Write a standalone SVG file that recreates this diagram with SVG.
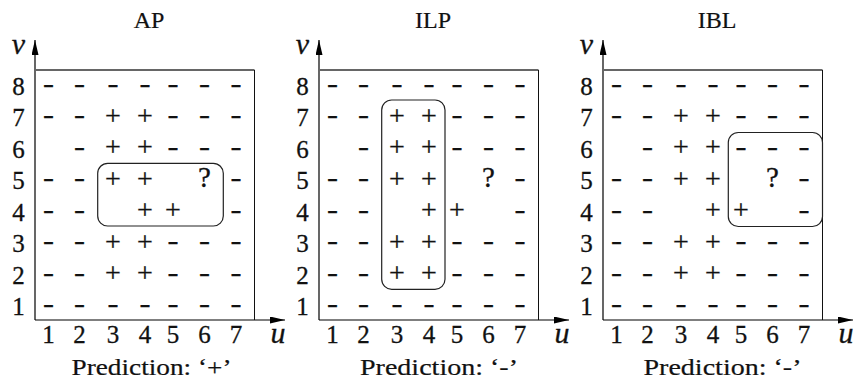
<svg xmlns="http://www.w3.org/2000/svg" width="854" height="382" viewBox="0 0 854 382">
<style>
text{font-family:"Liberation Serif","Times New Roman",serif;fill:#111;stroke:#111;stroke-width:0.3;text-anchor:middle}
.m{font-size:26px;stroke-width:0.35}
.p{font-size:28px}
.q{font-size:29px}
.n{font-size:25px}
.i{font-size:30px;font-style:italic}
.t{font-size:24px;stroke-width:0.2}
.pr{font-size:24px;stroke-width:0.2}
.ax{stroke:#000;stroke-width:1.2;fill:none}
.top{stroke:#666;stroke-width:1.8;fill:none}
.rt{stroke:#111;stroke-width:1;fill:none}
.box{stroke:#222;stroke-width:1.2;fill:none}
</style>
<defs>
<marker id="ah" markerWidth="15" markerHeight="7" refX="15" refY="3.5" orient="auto" markerUnits="userSpaceOnUse">
<path d="M0,0 L15,3.5 L0,7 z" fill="#000"/>
</marker>
</defs>

<!-- Panel AP -->
<g id="panel-AP">
<text class="t" x="149" y="28">AP</text>
<g id="axes-AP">
<path class="ax" d="M35,320 V40" marker-end="url(#ah)"/>
<path class="ax" d="M35,320 H285" marker-end="url(#ah)"/>
<path class="top" d="M35,70 H254.5"/>
<path class="rt" d="M254.5,70 V320"/>
</g>
<text class="i" x="18.5" y="54">v</text>
<text class="i" x="278" y="343">u</text>
<g id="rows-AP">
<text class="n" x="18.5" y="94.5">8</text><text class="n" x="18.5" y="126">7</text><text class="n" x="18.5" y="157.5">6</text><text class="n" x="18.5" y="189">5</text>
<text class="n" x="18.5" y="220.5">4</text><text class="n" x="18.5" y="252">3</text><text class="n" x="18.5" y="283.5">2</text><text class="n" x="18.5" y="315">1</text>
</g>
<g id="cols-AP">
<text class="n" x="48.5" y="343">1</text><text class="n" x="79.5" y="343">2</text><text class="n" x="113" y="343">3</text><text class="n" x="145" y="343">4</text>
<text class="n" x="173" y="343">5</text><text class="n" x="204.5" y="343">6</text><text class="n" x="236" y="343">7</text>
</g>
<g id="grid-AP">
<text class="m" x="48.5" y="91.9" textLength="11" lengthAdjust="spacingAndGlyphs">-</text><text class="m" x="79.5" y="91.9" textLength="11" lengthAdjust="spacingAndGlyphs">-</text><text class="m" x="113" y="91.9" textLength="11" lengthAdjust="spacingAndGlyphs">-</text><text class="m" x="145" y="91.9" textLength="11" lengthAdjust="spacingAndGlyphs">-</text><text class="m" x="173" y="91.9" textLength="11" lengthAdjust="spacingAndGlyphs">-</text><text class="m" x="204.5" y="91.9" textLength="11" lengthAdjust="spacingAndGlyphs">-</text><text class="m" x="236" y="91.9" textLength="11" lengthAdjust="spacingAndGlyphs">-</text>
<text class="m" x="48.5" y="123.4" textLength="11" lengthAdjust="spacingAndGlyphs">-</text><text class="m" x="79.5" y="123.4" textLength="11" lengthAdjust="spacingAndGlyphs">-</text><text class="p" x="113" y="124.6">+</text><text class="p" x="145" y="124.6">+</text><text class="m" x="173" y="123.4" textLength="11" lengthAdjust="spacingAndGlyphs">-</text><text class="m" x="204.5" y="123.4" textLength="11" lengthAdjust="spacingAndGlyphs">-</text><text class="m" x="236" y="123.4" textLength="11" lengthAdjust="spacingAndGlyphs">-</text>
<text class="m" x="79.5" y="154.9" textLength="11" lengthAdjust="spacingAndGlyphs">-</text><text class="p" x="113" y="156.1">+</text><text class="p" x="145" y="156.1">+</text><text class="m" x="173" y="154.9" textLength="11" lengthAdjust="spacingAndGlyphs">-</text><text class="m" x="204.5" y="154.9" textLength="11" lengthAdjust="spacingAndGlyphs">-</text><text class="m" x="236" y="154.9" textLength="11" lengthAdjust="spacingAndGlyphs">-</text>
<text class="m" x="48.5" y="186.4" textLength="11" lengthAdjust="spacingAndGlyphs">-</text><text class="m" x="79.5" y="186.4" textLength="11" lengthAdjust="spacingAndGlyphs">-</text><text class="p" x="113" y="187.6">+</text><text class="p" x="145" y="187.6">+</text><text class="q" x="204.5" y="187">?</text><text class="m" x="236" y="186.4" textLength="11" lengthAdjust="spacingAndGlyphs">-</text>
<text class="m" x="48.5" y="217.9" textLength="11" lengthAdjust="spacingAndGlyphs">-</text><text class="m" x="79.5" y="217.9" textLength="11" lengthAdjust="spacingAndGlyphs">-</text><text class="p" x="145" y="219.1">+</text><text class="p" x="173" y="219.1">+</text><text class="m" x="236" y="217.9" textLength="11" lengthAdjust="spacingAndGlyphs">-</text>
<text class="m" x="48.5" y="249.4" textLength="11" lengthAdjust="spacingAndGlyphs">-</text><text class="m" x="79.5" y="249.4" textLength="11" lengthAdjust="spacingAndGlyphs">-</text><text class="p" x="113" y="250.6">+</text><text class="p" x="145" y="250.6">+</text><text class="m" x="173" y="249.4" textLength="11" lengthAdjust="spacingAndGlyphs">-</text><text class="m" x="204.5" y="249.4" textLength="11" lengthAdjust="spacingAndGlyphs">-</text><text class="m" x="236" y="249.4" textLength="11" lengthAdjust="spacingAndGlyphs">-</text>
<text class="m" x="48.5" y="280.9" textLength="11" lengthAdjust="spacingAndGlyphs">-</text><text class="m" x="79.5" y="280.9" textLength="11" lengthAdjust="spacingAndGlyphs">-</text><text class="p" x="113" y="282.1">+</text><text class="p" x="145" y="282.1">+</text><text class="m" x="173" y="280.9" textLength="11" lengthAdjust="spacingAndGlyphs">-</text><text class="m" x="204.5" y="280.9" textLength="11" lengthAdjust="spacingAndGlyphs">-</text><text class="m" x="236" y="280.9" textLength="11" lengthAdjust="spacingAndGlyphs">-</text>
<text class="m" x="48.5" y="312.4" textLength="11" lengthAdjust="spacingAndGlyphs">-</text><text class="m" x="79.5" y="312.4" textLength="11" lengthAdjust="spacingAndGlyphs">-</text><text class="m" x="113" y="312.4" textLength="11" lengthAdjust="spacingAndGlyphs">-</text><text class="m" x="145" y="312.4" textLength="11" lengthAdjust="spacingAndGlyphs">-</text><text class="m" x="173" y="312.4" textLength="11" lengthAdjust="spacingAndGlyphs">-</text><text class="m" x="204.5" y="312.4" textLength="11" lengthAdjust="spacingAndGlyphs">-</text><text class="m" x="236" y="312.4" textLength="11" lengthAdjust="spacingAndGlyphs">-</text>
</g>
<rect id="box-AP" class="box" x="97.7" y="163.3" width="125.6" height="62.7" rx="10"/>
<text class="pr" x="151.5" y="375" textLength="160" lengthAdjust="spacingAndGlyphs">Prediction: ‘+’</text>
</g>

<!-- Panel ILP -->
<g id="panel-ILP" transform="translate(284,0)">
<text class="t" x="149" y="28">ILP</text>
<g id="axes-ILP">
<path class="ax" d="M35,320 V40" marker-end="url(#ah)"/>
<path class="ax" d="M35,320 H285" marker-end="url(#ah)"/>
<path class="top" d="M35,70 H254.5"/>
<path class="rt" d="M254.5,70 V320"/>
</g>
<text class="i" x="18.5" y="54">v</text>
<text class="i" x="278" y="343">u</text>
<g id="rows-ILP">
<text class="n" x="18.5" y="94.5">8</text><text class="n" x="18.5" y="126">7</text><text class="n" x="18.5" y="157.5">6</text><text class="n" x="18.5" y="189">5</text>
<text class="n" x="18.5" y="220.5">4</text><text class="n" x="18.5" y="252">3</text><text class="n" x="18.5" y="283.5">2</text><text class="n" x="18.5" y="315">1</text>
</g>
<g id="cols-ILP">
<text class="n" x="48.5" y="343">1</text><text class="n" x="79.5" y="343">2</text><text class="n" x="113" y="343">3</text><text class="n" x="145" y="343">4</text>
<text class="n" x="173" y="343">5</text><text class="n" x="204.5" y="343">6</text><text class="n" x="236" y="343">7</text>
</g>
<g id="grid-ILP">
<text class="m" x="48.5" y="91.9" textLength="11" lengthAdjust="spacingAndGlyphs">-</text><text class="m" x="79.5" y="91.9" textLength="11" lengthAdjust="spacingAndGlyphs">-</text><text class="m" x="113" y="91.9" textLength="11" lengthAdjust="spacingAndGlyphs">-</text><text class="m" x="145" y="91.9" textLength="11" lengthAdjust="spacingAndGlyphs">-</text><text class="m" x="173" y="91.9" textLength="11" lengthAdjust="spacingAndGlyphs">-</text><text class="m" x="204.5" y="91.9" textLength="11" lengthAdjust="spacingAndGlyphs">-</text><text class="m" x="236" y="91.9" textLength="11" lengthAdjust="spacingAndGlyphs">-</text>
<text class="m" x="48.5" y="123.4" textLength="11" lengthAdjust="spacingAndGlyphs">-</text><text class="m" x="79.5" y="123.4" textLength="11" lengthAdjust="spacingAndGlyphs">-</text><text class="p" x="113" y="124.6">+</text><text class="p" x="145" y="124.6">+</text><text class="m" x="173" y="123.4" textLength="11" lengthAdjust="spacingAndGlyphs">-</text><text class="m" x="204.5" y="123.4" textLength="11" lengthAdjust="spacingAndGlyphs">-</text><text class="m" x="236" y="123.4" textLength="11" lengthAdjust="spacingAndGlyphs">-</text>
<text class="m" x="79.5" y="154.9" textLength="11" lengthAdjust="spacingAndGlyphs">-</text><text class="p" x="113" y="156.1">+</text><text class="p" x="145" y="156.1">+</text><text class="m" x="173" y="154.9" textLength="11" lengthAdjust="spacingAndGlyphs">-</text><text class="m" x="204.5" y="154.9" textLength="11" lengthAdjust="spacingAndGlyphs">-</text><text class="m" x="236" y="154.9" textLength="11" lengthAdjust="spacingAndGlyphs">-</text>
<text class="m" x="48.5" y="186.4" textLength="11" lengthAdjust="spacingAndGlyphs">-</text><text class="m" x="79.5" y="186.4" textLength="11" lengthAdjust="spacingAndGlyphs">-</text><text class="p" x="113" y="187.6">+</text><text class="p" x="145" y="187.6">+</text><text class="q" x="204.5" y="187">?</text><text class="m" x="236" y="186.4" textLength="11" lengthAdjust="spacingAndGlyphs">-</text>
<text class="m" x="48.5" y="217.9" textLength="11" lengthAdjust="spacingAndGlyphs">-</text><text class="m" x="79.5" y="217.9" textLength="11" lengthAdjust="spacingAndGlyphs">-</text><text class="p" x="145" y="219.1">+</text><text class="p" x="173" y="219.1">+</text><text class="m" x="236" y="217.9" textLength="11" lengthAdjust="spacingAndGlyphs">-</text>
<text class="m" x="48.5" y="249.4" textLength="11" lengthAdjust="spacingAndGlyphs">-</text><text class="m" x="79.5" y="249.4" textLength="11" lengthAdjust="spacingAndGlyphs">-</text><text class="p" x="113" y="250.6">+</text><text class="p" x="145" y="250.6">+</text><text class="m" x="173" y="249.4" textLength="11" lengthAdjust="spacingAndGlyphs">-</text><text class="m" x="204.5" y="249.4" textLength="11" lengthAdjust="spacingAndGlyphs">-</text><text class="m" x="236" y="249.4" textLength="11" lengthAdjust="spacingAndGlyphs">-</text>
<text class="m" x="48.5" y="280.9" textLength="11" lengthAdjust="spacingAndGlyphs">-</text><text class="m" x="79.5" y="280.9" textLength="11" lengthAdjust="spacingAndGlyphs">-</text><text class="p" x="113" y="282.1">+</text><text class="p" x="145" y="282.1">+</text><text class="m" x="173" y="280.9" textLength="11" lengthAdjust="spacingAndGlyphs">-</text><text class="m" x="204.5" y="280.9" textLength="11" lengthAdjust="spacingAndGlyphs">-</text><text class="m" x="236" y="280.9" textLength="11" lengthAdjust="spacingAndGlyphs">-</text>
<text class="m" x="48.5" y="312.4" textLength="11" lengthAdjust="spacingAndGlyphs">-</text><text class="m" x="79.5" y="312.4" textLength="11" lengthAdjust="spacingAndGlyphs">-</text><text class="m" x="113" y="312.4" textLength="11" lengthAdjust="spacingAndGlyphs">-</text><text class="m" x="145" y="312.4" textLength="11" lengthAdjust="spacingAndGlyphs">-</text><text class="m" x="173" y="312.4" textLength="11" lengthAdjust="spacingAndGlyphs">-</text><text class="m" x="204.5" y="312.4" textLength="11" lengthAdjust="spacingAndGlyphs">-</text><text class="m" x="236" y="312.4" textLength="11" lengthAdjust="spacingAndGlyphs">-</text>
</g>
<rect id="box-ILP" class="box" x="97.7" y="100" width="63.3" height="189.3" rx="10"/>
<text class="pr" x="155" y="375" textLength="158" lengthAdjust="spacingAndGlyphs">Prediction: ‘-’</text>
</g>

<!-- Panel IBL -->
<g id="panel-IBL" transform="translate(568,0)">
<text class="t" x="149" y="28">IBL</text>
<g id="axes-IBL">
<path class="ax" d="M35,320 V40" marker-end="url(#ah)"/>
<path class="ax" d="M35,320 H285" marker-end="url(#ah)"/>
<path class="top" d="M35,70 H254.5"/>
<path class="rt" d="M254.5,70 V320"/>
</g>
<text class="i" x="18.5" y="54">v</text>
<text class="i" x="278" y="343">u</text>
<g id="rows-IBL">
<text class="n" x="18.5" y="94.5">8</text><text class="n" x="18.5" y="126">7</text><text class="n" x="18.5" y="157.5">6</text><text class="n" x="18.5" y="189">5</text>
<text class="n" x="18.5" y="220.5">4</text><text class="n" x="18.5" y="252">3</text><text class="n" x="18.5" y="283.5">2</text><text class="n" x="18.5" y="315">1</text>
</g>
<g id="cols-IBL">
<text class="n" x="48.5" y="343">1</text><text class="n" x="79.5" y="343">2</text><text class="n" x="113" y="343">3</text><text class="n" x="145" y="343">4</text>
<text class="n" x="173" y="343">5</text><text class="n" x="204.5" y="343">6</text><text class="n" x="236" y="343">7</text>
</g>
<g id="grid-IBL">
<text class="m" x="48.5" y="91.9" textLength="11" lengthAdjust="spacingAndGlyphs">-</text><text class="m" x="79.5" y="91.9" textLength="11" lengthAdjust="spacingAndGlyphs">-</text><text class="m" x="113" y="91.9" textLength="11" lengthAdjust="spacingAndGlyphs">-</text><text class="m" x="145" y="91.9" textLength="11" lengthAdjust="spacingAndGlyphs">-</text><text class="m" x="173" y="91.9" textLength="11" lengthAdjust="spacingAndGlyphs">-</text><text class="m" x="204.5" y="91.9" textLength="11" lengthAdjust="spacingAndGlyphs">-</text><text class="m" x="236" y="91.9" textLength="11" lengthAdjust="spacingAndGlyphs">-</text>
<text class="m" x="48.5" y="123.4" textLength="11" lengthAdjust="spacingAndGlyphs">-</text><text class="m" x="79.5" y="123.4" textLength="11" lengthAdjust="spacingAndGlyphs">-</text><text class="p" x="113" y="124.6">+</text><text class="p" x="145" y="124.6">+</text><text class="m" x="173" y="123.4" textLength="11" lengthAdjust="spacingAndGlyphs">-</text><text class="m" x="204.5" y="123.4" textLength="11" lengthAdjust="spacingAndGlyphs">-</text><text class="m" x="236" y="123.4" textLength="11" lengthAdjust="spacingAndGlyphs">-</text>
<text class="m" x="79.5" y="154.9" textLength="11" lengthAdjust="spacingAndGlyphs">-</text><text class="p" x="113" y="156.1">+</text><text class="p" x="145" y="156.1">+</text><text class="m" x="173" y="154.9" textLength="11" lengthAdjust="spacingAndGlyphs">-</text><text class="m" x="204.5" y="154.9" textLength="11" lengthAdjust="spacingAndGlyphs">-</text><text class="m" x="236" y="154.9" textLength="11" lengthAdjust="spacingAndGlyphs">-</text>
<text class="m" x="48.5" y="186.4" textLength="11" lengthAdjust="spacingAndGlyphs">-</text><text class="m" x="79.5" y="186.4" textLength="11" lengthAdjust="spacingAndGlyphs">-</text><text class="p" x="113" y="187.6">+</text><text class="p" x="145" y="187.6">+</text><text class="q" x="204.5" y="187">?</text><text class="m" x="236" y="186.4" textLength="11" lengthAdjust="spacingAndGlyphs">-</text>
<text class="m" x="48.5" y="217.9" textLength="11" lengthAdjust="spacingAndGlyphs">-</text><text class="m" x="79.5" y="217.9" textLength="11" lengthAdjust="spacingAndGlyphs">-</text><text class="p" x="145" y="219.1">+</text><text class="p" x="173" y="219.1">+</text><text class="m" x="236" y="217.9" textLength="11" lengthAdjust="spacingAndGlyphs">-</text>
<text class="m" x="48.5" y="249.4" textLength="11" lengthAdjust="spacingAndGlyphs">-</text><text class="m" x="79.5" y="249.4" textLength="11" lengthAdjust="spacingAndGlyphs">-</text><text class="p" x="113" y="250.6">+</text><text class="p" x="145" y="250.6">+</text><text class="m" x="173" y="249.4" textLength="11" lengthAdjust="spacingAndGlyphs">-</text><text class="m" x="204.5" y="249.4" textLength="11" lengthAdjust="spacingAndGlyphs">-</text><text class="m" x="236" y="249.4" textLength="11" lengthAdjust="spacingAndGlyphs">-</text>
<text class="m" x="48.5" y="280.9" textLength="11" lengthAdjust="spacingAndGlyphs">-</text><text class="m" x="79.5" y="280.9" textLength="11" lengthAdjust="spacingAndGlyphs">-</text><text class="p" x="113" y="282.1">+</text><text class="p" x="145" y="282.1">+</text><text class="m" x="173" y="280.9" textLength="11" lengthAdjust="spacingAndGlyphs">-</text><text class="m" x="204.5" y="280.9" textLength="11" lengthAdjust="spacingAndGlyphs">-</text><text class="m" x="236" y="280.9" textLength="11" lengthAdjust="spacingAndGlyphs">-</text>
<text class="m" x="48.5" y="312.4" textLength="11" lengthAdjust="spacingAndGlyphs">-</text><text class="m" x="79.5" y="312.4" textLength="11" lengthAdjust="spacingAndGlyphs">-</text><text class="m" x="113" y="312.4" textLength="11" lengthAdjust="spacingAndGlyphs">-</text><text class="m" x="145" y="312.4" textLength="11" lengthAdjust="spacingAndGlyphs">-</text><text class="m" x="173" y="312.4" textLength="11" lengthAdjust="spacingAndGlyphs">-</text><text class="m" x="204.5" y="312.4" textLength="11" lengthAdjust="spacingAndGlyphs">-</text><text class="m" x="236" y="312.4" textLength="11" lengthAdjust="spacingAndGlyphs">-</text>
</g>
<rect id="box-IBL" class="box" x="160.3" y="132.5" width="94.2" height="94" rx="10"/>
<text class="pr" x="154.5" y="375" textLength="158" lengthAdjust="spacingAndGlyphs">Prediction: ‘-’</text>
</g>
</svg>
